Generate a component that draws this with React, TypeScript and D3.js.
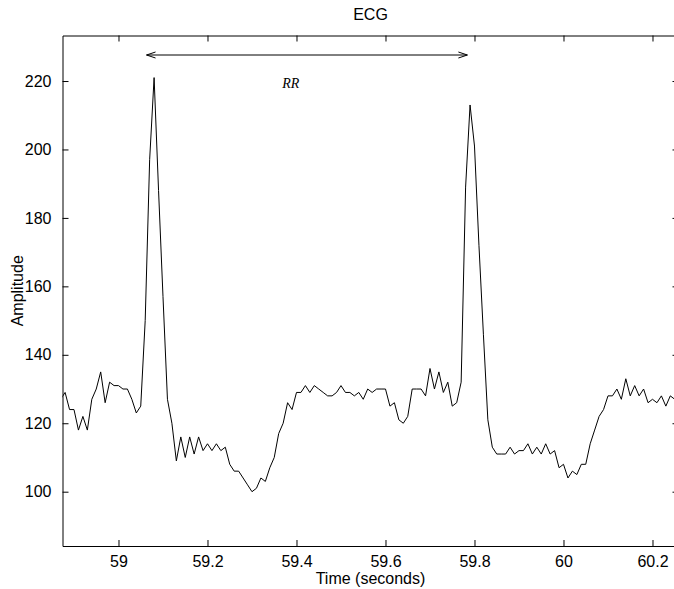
import React, { useEffect, useRef } from 'react';
import * as d3 from 'd3';

// ECG samples, 100 Hz, first sample at 58.87 s
const sampleStart = 58.87;
const sampleStep = 0.01;
const amplitude = [
  127, 129, 124, 124, 118, 122, 118, 127, 130, 135,
  126, 132, 131, 131, 130, 130, 127, 123, 125, 150,
  197, 221, 188, 157, 127, 120, 109, 116, 110, 116,
  111, 116, 112, 114, 112, 114, 112, 113, 108, 106,
  106, 104, 102, 100, 101, 104, 103, 107, 110, 117,
  120, 126, 124, 129, 129, 131, 129, 131, 130, 129,
  128, 128, 129, 131, 129, 129, 128, 129, 127, 130,
  129, 130, 130, 130, 125, 126, 121, 120, 122, 130,
  130, 130, 128, 136, 130, 135, 129, 132, 125, 126,
  132, 189, 213, 201, 172, 146, 121, 113, 111, 111,
  111, 113, 111, 112, 112, 114, 111, 113, 111, 114,
  111, 112, 107, 108, 104, 106, 105, 108, 108, 114,
  118, 122, 124, 128, 128, 130, 127, 133, 128, 131,
  128, 130, 126, 127, 126, 128, 125, 128, 127,
];

const xTicks = [59, 59.2, 59.4, 59.6, 59.8, 60, 60.2];
const yTicks = [100, 120, 140, 160, 180, 200, 220];
const xLimits = [58.87416, 60.25843];
const yLimits = [84.13, 233.3];

// RR interval marker
const rrStart = 59.063;
const rrEnd = 59.784;
const rrLevel = 227.6;
const rrLabelAt = [59.387, 218.8];

const App = () => {
  const svgRef = useRef<SVGSVGElement>(null);

  useEffect(() => {
    const svg = d3.select(svgRef.current);
    svg.selectAll('*').remove();

    const width = 674;
    const height = 589;
    const left = 62.5, right = 678.5, top = 35.5, bottom = 546;
    const font = 'Liberation Sans, Arial, Helvetica, sans-serif';

    svg.attr('width', width).attr('height', height);

    const x = d3.scaleLinear().domain(xLimits).range([left, right]);
    const y = d3.scaleLinear().domain(yLimits).range([bottom, top]);

    const data = amplitude.map((v, i) => ({ t: sampleStart + i * sampleStep, v }));

    svg.append('rect')
      .attr('width', width).attr('height', height)
      .attr('fill', '#fff');

    svg.append('clipPath').attr('id', 'plot-clip')
      .append('rect')
      .attr('x', left).attr('y', top)
      .attr('width', right - left).attr('height', bottom - top);

    const line = d3.line<{ t: number; v: number }>()
      .x(d => x(d.t))
      .y(d => y(d.v));

    svg.append('path')
      .datum(data)
      .attr('clip-path', 'url(#plot-clip)')
      .attr('fill', 'none')
      .attr('stroke', '#000')
      .attr('stroke-width', 1)
      .attr('stroke-linejoin', 'round')
      .attr('d', line);

    // axes box with inward ticks on all sides
    const styleAxis = (g) => {
      g.select('.domain').attr('stroke', '#000').attr('stroke-width', 1);
      g.selectAll('.tick line').attr('stroke', '#000');
      g.selectAll('.tick text')
        .attr('fill', '#000')
        .style('font-family', font)
        .style('font-size', '16px');
    };

    svg.append('g')
      .attr('transform', `translate(0, ${bottom})`)
      .call(d3.axisBottom(x).tickValues(xTicks).tickSizeInner(-6).tickSizeOuter(0)
        .tickPadding(10).tickFormat(d3.format('')))
      .call(styleAxis);

    svg.append('g')
      .attr('transform', `translate(0, ${top})`)
      .call(d3.axisTop(x).tickValues(xTicks).tickSizeInner(-6).tickSizeOuter(0)
        .tickFormat(() => ''))
      .call(styleAxis);

    svg.append('g')
      .attr('transform', `translate(${left}, 0)`)
      .call(d3.axisLeft(y).tickValues(yTicks).tickSizeInner(-6).tickSizeOuter(0)
        .tickPadding(11).tickFormat(d3.format('')))
      .call(styleAxis);

    svg.append('g')
      .attr('transform', `translate(${right}, 0)`)
      .call(d3.axisRight(y).tickValues(yTicks).tickSizeInner(-6).tickSizeOuter(0)
        .tickFormat(() => ''))
      .call(styleAxis);

    svg.selectAll('.domain').attr('fill', 'none');

    // RR arrow
    const ax1 = x(rrStart), ax2 = x(rrEnd), ay = y(rrLevel);
    const arrow = svg.append('g').attr('stroke', '#000').attr('fill', 'none').attr('stroke-width', 1);
    arrow.append('line').attr('x1', ax1).attr('x2', ax2).attr('y1', ay).attr('y2', ay);
    arrow.append('path').attr('d', `M${ax1 + 9},${ay - 3}L${ax1},${ay}L${ax1 + 9},${ay + 3}`);
    arrow.append('path').attr('d', `M${ax2 - 9},${ay - 3}L${ax2},${ay}L${ax2 - 9},${ay + 3}`);

    svg.append('text')
      .attr('x', x(rrLabelAt[0]))
      .attr('y', y(rrLabelAt[1]))
      .attr('text-anchor', 'middle')
      .attr('dominant-baseline', 'middle')
      .style('font-family', 'Liberation Serif, Times New Roman, serif')
      .style('font-style', 'italic')
      .style('font-size', '14px')
      .text('RR');

    svg.append('text')
      .attr('x', (left + right) / 2)
      .attr('y', 20)
      .attr('text-anchor', 'middle')
      .style('font-family', font)
      .style('font-size', '16px')
      .text('ECG');

    svg.append('text')
      .attr('x', (left + right) / 2)
      .attr('y', 584)
      .attr('text-anchor', 'middle')
      .style('font-family', font)
      .style('font-size', '16px')
      .text('Time (seconds)');

    svg.append('text')
      .attr('transform', `translate(23, ${(top + bottom) / 2}) rotate(-90)`)
      .attr('text-anchor', 'middle')
      .style('font-family', font)
      .style('font-size', '16px')
      .text('Amplitude');
  }, []);

  return <svg ref={svgRef} style={{ position: 'absolute', left: 0, top: 0 }}></svg>;
};

export default App;
